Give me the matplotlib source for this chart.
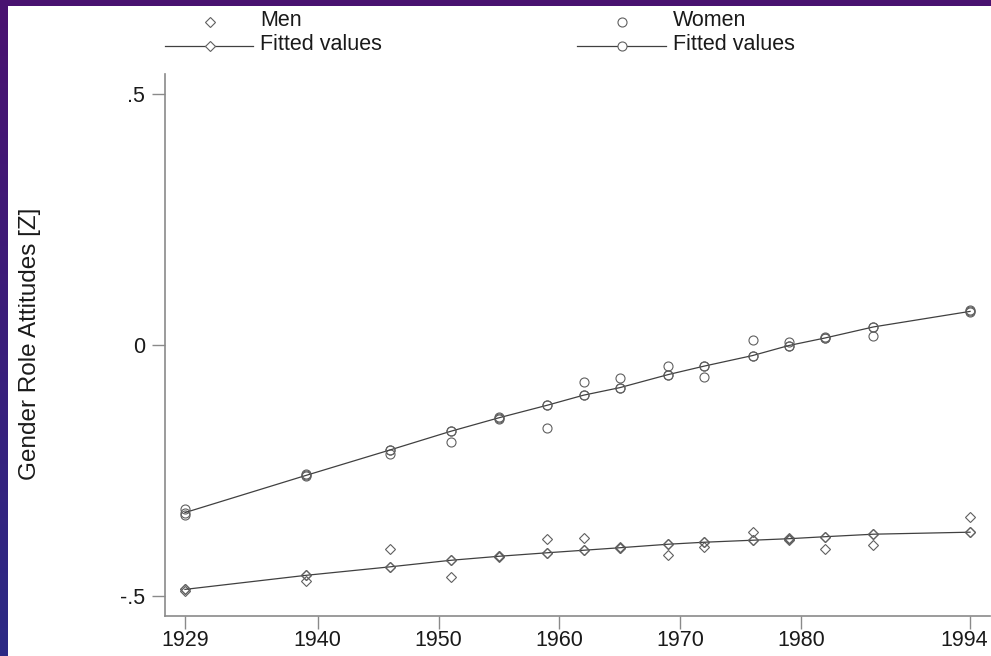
import matplotlib
matplotlib.use("Agg")
import matplotlib.pyplot as plt
import numpy as np
from matplotlib.patches import Rectangle
from matplotlib.colors import LinearSegmentedColormap
import matplotlib.transforms as mtransforms

plt.rcParams['font.family'] = ['Liberation Sans', 'DejaVu Sans']

years = [1929, 1939, 1946, 1951, 1955, 1959, 1962, 1965, 1969, 1972, 1976, 1979, 1982, 1986, 1994]

men_obs_a = [-0.486, -0.459, -0.407, -0.429, -0.420, -0.414, -0.409, -0.403, -0.397, -0.393, -0.389, -0.385, -0.382, -0.377, -0.373]
men_obs_b = [-0.491, -0.470, -0.442, -0.463, -0.422, -0.386, -0.385, -0.405, -0.419, -0.403, -0.373, -0.388, -0.407, -0.399, -0.342]
men_fit = [-0.487, -0.459, -0.442, -0.429, -0.421, -0.414, -0.409, -0.404, -0.397, -0.393, -0.389, -0.386, -0.382, -0.377, -0.373]

women_obs_a = [-0.326, -0.258, -0.209, -0.172, -0.144, -0.120, -0.100, -0.065, -0.042, -0.042, 0.010, 0.006, 0.016, 0.036, 0.069]
women_obs_b = [-0.338, -0.262, -0.217, -0.194, -0.147, -0.165, -0.073, -0.085, -0.059, -0.063, -0.021, -0.002, 0.013, 0.018, 0.066]
women_fit = [-0.334, -0.260, -0.209, -0.172, -0.145, -0.120, -0.100, -0.085, -0.059, -0.042, -0.021, -0.001, 0.014, 0.036, 0.067]

xtick_labels = [1929, 1940, 1950, 1960, 1970, 1980, 1994]
ytick_vals = [-0.5, 0, 0.5]
ytick_labels = ['-.5', '0', '.5']

W, H = 991, 656
fig = plt.figure(figsize=(W/100, H/100), dpi=100)
fig.patch.set_facecolor('#4a1270')

# gradient border
gax = fig.add_axes([0, 0, 1, 1], zorder=-10)
grad = np.linspace(0, 1, 256).reshape(-1, 1)
cmap = LinearSegmentedColormap.from_list('g', ['#4a1270', '#2c2a85'])
gax.imshow(grad, aspect='auto', cmap=cmap, extent=[0, 1, 0, 1], origin='upper')
gax.axis('off')
gax.add_patch(Rectangle((8/W, 0), 1 - 8/W, 1 - 6/H, transform=gax.transAxes,
                        facecolor='white', edgecolor='none', zorder=5))

ax = fig.add_axes([165/W, (H-616)/H, (990-165)/W, (616-74)/H])
ax.set_facecolor('none')

mcol = '#606060'
lcol = '#404040'
ms = 6.5
dms = 5

ax.plot(years, men_obs_a, linestyle='none', marker='D', ms=dms, mfc='none', mec=mcol, mew=0.8)
ax.plot(years, men_obs_b, linestyle='none', marker='D', ms=dms, mfc='none', mec=mcol, mew=0.8)
ax.plot(years, men_fit, color=lcol, lw=0.9, marker='D', ms=dms, mfc='none', mec=mcol, mew=0.8)

ax.plot(years, women_obs_a, linestyle='none', marker='o', ms=ms, mfc='none', mec=mcol, mew=0.8)
ax.plot(years, women_obs_b, linestyle='none', marker='o', ms=ms, mfc='none', mec=mcol, mew=0.8)
ax.plot(years, women_fit, color=lcol, lw=0.9, marker='o', ms=ms, mfc='none', mec=mcol, mew=0.8)

ax.set_xlim(1927.35, 1995.65)
ax.set_ylim(-0.54, 0.54)
ax.set_xticks(xtick_labels)
ax.set_xticklabels([str(v) for v in xtick_labels])
ax.set_yticks(ytick_vals)
ax.set_yticklabels(ytick_labels)
for s in ['top', 'right']:
    ax.spines[s].set_visible(False)
for s in ['left', 'bottom']:
    ax.spines[s].set_color('#8a8a8a')
    ax.spines[s].set_linewidth(1.2)
ax.tick_params(axis='both', direction='out', length=9.5, width=1, color='#8a8a8a',
               labelsize=15.5, labelcolor='#1a1a1a')
ax.tick_params(axis='x', pad=0.5)
ax.tick_params(axis='y', pad=5)
# shift last x tick label slightly left, as in the reference
last = ax.get_xticklabels()[-1]
last.set_transform(last.get_transform() + mtransforms.ScaledTranslation(-6/100, 0, fig.dpi_scale_trans))

ax.set_ylabel('Gender Role Attitudes [Z]', fontsize=17.5, color='#1a1a1a')
ax.yaxis.set_label_coords((41 - 165)/(990-165), 0.502)

# legend drawn manually in pixel coords
leg = fig.add_axes([0, 0, 1, 1], zorder=10)
leg.set_xlim(0, W)
leg.set_ylim(H, 0)
leg.axis('off')
leg.patch.set_alpha(0)
# Men
leg.plot([210], [22], marker='D', ms=dms, mfc='none', mec=mcol, mew=0.8, linestyle='none')
leg.text(260, 20, 'Men', fontsize=15.5, va='center', ha='left', color='#1a1a1a')
leg.plot([165, 253], [46, 46], color=lcol, lw=0.9)
leg.plot([210], [46], marker='D', ms=dms, mfc='white', mec=mcol, mew=0.8)
leg.text(260, 45, 'Fitted values', fontsize=15.5, va='center', ha='left', color='#1a1a1a')
# Women
leg.plot([622], [22], marker='o', ms=ms, mfc='none', mec=mcol, mew=0.8, linestyle='none')
leg.text(673, 20, 'Women', fontsize=15.5, va='center', ha='left', color='#1a1a1a')
leg.plot([577, 666], [46, 46], color=lcol, lw=0.9)
leg.plot([622], [46], marker='o', ms=ms, mfc='white', mec=mcol, mew=0.8)
leg.text(673, 45, 'Fitted values', fontsize=15.5, va='center', ha='left', color='#1a1a1a')

fig.savefig('out.png', dpi=100)
